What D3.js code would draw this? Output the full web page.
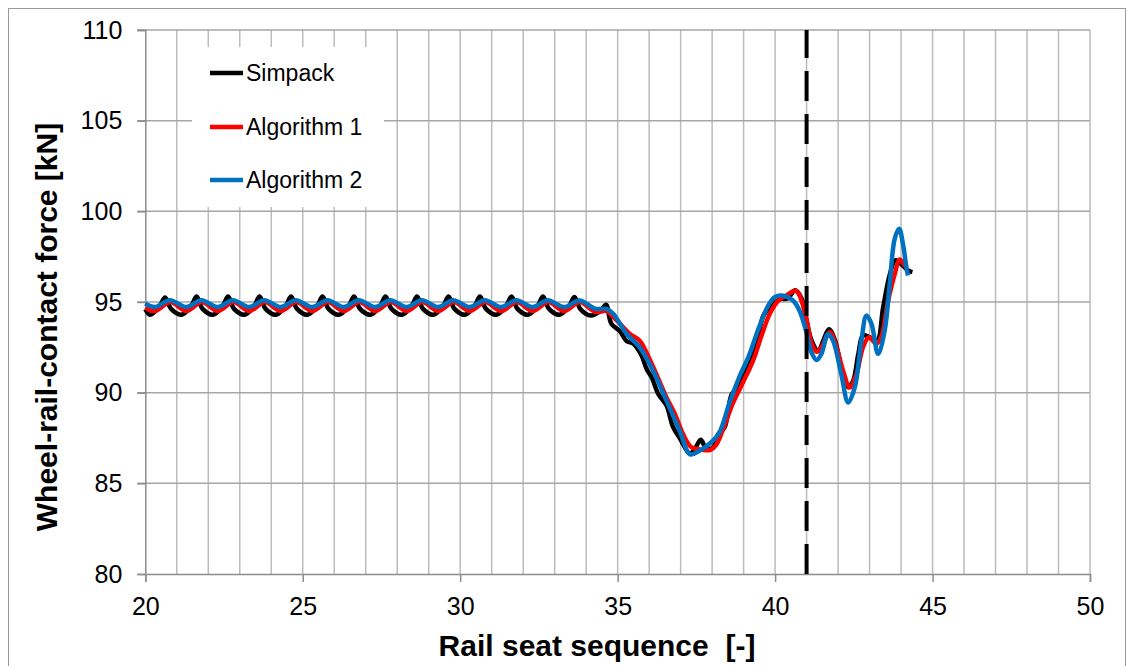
<!DOCTYPE html>
<html lang="en">
<head>
    <meta charset="UTF-8">
    <title>Wheel-rail-contact force</title>
    <script src="https://d3js.org/d3.v7.min.js"></script>
    <style>
        body { margin: 0; background: white; }
        text { font-family: "Liberation Sans", Arial, sans-serif; }
    </style>
</head>
<body>
<div id="chart"></div>
<script>
    // Values: [rail seat, force kN]
    var simpack = [
        [20.0, 94.6], [20.15, 94.3], [20.45, 94.75], [20.63, 95.25], [20.82, 94.62],
        [21.15, 94.3], [21.45, 94.75], [21.63, 95.3], [21.82, 94.62],
        [22.15, 94.3], [22.45, 94.75], [22.63, 95.3], [22.82, 94.62],
        [23.15, 94.3], [23.45, 94.75], [23.63, 95.3], [23.82, 94.62],
        [24.15, 94.3], [24.45, 94.75], [24.63, 95.3], [24.82, 94.62],
        [25.15, 94.3], [25.45, 94.75], [25.63, 95.3], [25.82, 94.62],
        [26.15, 94.3], [26.45, 94.75], [26.63, 95.3], [26.82, 94.62],
        [27.15, 94.3], [27.45, 94.75], [27.63, 95.3], [27.82, 94.62],
        [28.15, 94.3], [28.45, 94.75], [28.63, 95.3], [28.82, 94.62],
        [29.15, 94.3], [29.45, 94.75], [29.63, 95.3], [29.82, 94.62],
        [30.15, 94.3], [30.45, 94.75], [30.63, 95.3], [30.82, 94.62],
        [31.15, 94.3], [31.45, 94.75], [31.63, 95.3], [31.82, 94.62],
        [32.15, 94.3], [32.45, 94.75], [32.63, 95.3], [32.82, 94.62],
        [33.15, 94.3], [33.45, 94.75], [33.63, 95.28], [33.82, 94.6],
        [34.15, 94.25], [34.45, 94.5], [34.63, 94.85], [34.8, 93.8],
        [35.07, 93.4], [35.28, 92.85], [35.5, 92.7], [35.76, 92.05], [35.92, 91.3],
        [36.08, 90.85], [36.29, 89.93], [36.55, 89.3], [36.76, 88.1], [36.97, 87.5],
        [37.29, 86.65], [37.45, 86.9], [37.64, 87.4], [37.82, 86.9], [38.03, 86.98],
        [38.19, 87.7], [38.4, 88.1], [38.62, 89.9], [38.83, 90.3], [39.1, 91.4],
        [39.36, 92.4], [39.64, 94.3], [39.89, 94.8], [40.15, 95.15], [40.4, 95.2],
        [40.64, 95.65], [40.84, 95.2], [40.97, 94.2], [41.16, 92.87], [41.37, 92.3],
        [41.53, 92.87], [41.71, 93.5], [41.9, 92.9], [42.1, 91.4], [42.32, 90.3],
        [42.48, 90.66], [42.64, 92.1], [42.79, 93.15], [43.0, 93.06], [43.24, 92.87],
        [43.43, 94.7], [43.64, 96.5], [43.82, 97.3], [44.06, 97.0], [44.22, 96.74],
        [44.36, 96.65]
    ];

    var algorithm1 = [
        [20.0, 94.68], [20.3, 94.5], [20.8, 95.0], [21.3, 94.5], [21.8, 95.0],
        [22.3, 94.5], [22.8, 95.0], [23.3, 94.5], [23.8, 95.0], [24.3, 94.5],
        [24.8, 95.0], [25.3, 94.5], [25.8, 95.0], [26.3, 94.5], [26.8, 95.0],
        [27.3, 94.5], [27.8, 95.0], [28.3, 94.5], [28.8, 95.0], [29.3, 94.5],
        [29.8, 95.0], [30.3, 94.5], [30.8, 95.0], [31.3, 94.5], [31.8, 95.0],
        [32.3, 94.5], [32.8, 95.0], [33.3, 94.5], [33.8, 95.0], [34.3, 94.45],
        [34.65, 94.5], [34.97, 93.98], [35.39, 93.24], [35.7, 92.87], [36.08, 91.6],
        [36.55, 89.74], [36.8, 88.9], [37.08, 87.7], [37.34, 87.0], [37.7, 86.85],
        [37.95, 86.85], [38.12, 87.1], [38.33, 87.9], [38.65, 89.38], [38.98, 90.57],
        [39.3, 91.77], [39.57, 93.15], [39.83, 94.35], [40.1, 95.08], [40.36, 95.36],
        [40.66, 95.62], [40.94, 94.5], [41.16, 92.7], [41.32, 92.25], [41.47, 92.5],
        [41.74, 93.33], [41.95, 92.5], [42.16, 91.2], [42.37, 90.29], [42.58, 91.0],
        [42.79, 92.5], [42.98, 93.06], [43.21, 92.7], [43.37, 93.06], [43.59, 95.08],
        [43.8, 96.54], [43.96, 97.35], [44.12, 97.0], [44.2, 96.9]
    ];

    var algorithm2 = [
        [20.0, 94.92], [20.3, 94.72], [20.78, 95.1], [21.3, 94.72], [21.78, 95.1],
        [22.3, 94.72], [22.78, 95.1], [23.3, 94.72], [23.78, 95.1], [24.3, 94.72],
        [24.78, 95.1], [25.3, 94.72], [25.78, 95.1], [26.3, 94.72], [26.78, 95.1],
        [27.3, 94.72], [27.78, 95.1], [28.3, 94.72], [28.78, 95.1], [29.3, 94.72],
        [29.78, 95.1], [30.3, 94.72], [30.78, 95.1], [31.3, 94.72], [31.78, 95.1],
        [32.3, 94.72], [32.78, 95.1], [33.3, 94.72], [33.78, 95.08], [34.3, 94.62],
        [34.65, 94.62], [34.86, 94.35], [35.28, 93.25], [35.7, 92.5], [36.13, 91.2],
        [36.55, 89.56], [36.97, 87.9], [37.3, 86.6], [37.6, 86.8], [37.91, 87.17],
        [38.23, 87.8], [38.54, 89.38], [38.86, 90.85], [39.17, 92.04], [39.49, 93.6],
        [39.78, 94.8], [39.99, 95.27], [40.2, 95.36], [40.57, 95.08], [40.78, 94.5],
        [41.0, 93.3], [41.16, 92.2], [41.32, 91.8], [41.47, 92.14], [41.68, 93.24],
        [41.84, 92.87], [42.1, 91.03], [42.32, 89.46], [42.53, 90.29], [42.74, 92.87],
        [42.9, 94.25], [43.06, 93.8], [43.27, 92.14], [43.48, 93.43], [43.64, 96.0],
        [43.8, 98.5], [43.94, 99.04], [44.06, 98.2], [44.17, 96.9], [44.22, 96.46]
    ];

    var seriesNames = ["Simpack", "Algorithm 1", "Algorithm 2"];
    var seriesColors = ["#000000", "#ff0000", "#0070c0"];
    var xTicks = [20, 25, 30, 35, 40, 45, 50];
    var yTicks = [80, 85, 90, 95, 100, 105, 110];
    var xGrid = d3.range(21, 51);
    var markerSeat = 41;

    var width = 1134, height = 666;
    var plot = {left: 145.3, right: 1090, top: 30, bottom: 574};

    var svg = d3.select("#chart").append("svg")
        .attr("width", width)
        .attr("height", height);

    // outer chart border
    svg.append("rect")
        .attr("x", 8.5).attr("y", 8.5)
        .attr("width", 1117).attr("height", 700)
        .style("fill", "white")
        .style("stroke", "#9a9a9a")
        .style("stroke-width", 1);

    var x = d3.scaleLinear().domain([20, 50]).range([plot.left, plot.right]);
    var y = d3.scaleLinear().domain([80, 110]).range([plot.bottom, plot.top]);

    // grid
    svg.append("g").selectAll("line").data(xGrid).enter().append("line")
        .attr("x1", function(d) { return x(d); })
        .attr("x2", function(d) { return x(d); })
        .attr("y1", plot.top).attr("y2", plot.bottom)
        .style("stroke", "#bcbcbc").style("stroke-width", 1.5);

    svg.append("g").selectAll("line").data(yTicks.slice(1)).enter().append("line")
        .attr("x1", plot.left - 8).attr("x2", plot.right)
        .attr("y1", function(d) { return y(d); })
        .attr("y2", function(d) { return y(d); })
        .style("stroke", "#a6a6a6").style("stroke-width", 1.5);

    // axes
    var axisLeft = d3.axisLeft(y).tickValues(yTicks).tickSize(8).tickPadding(15);
    var gy = svg.append("g").attr("transform", "translate(" + plot.left + ",0)").call(axisLeft);

    var axisBottom = d3.axisBottom(x).tickValues(xTicks).tickSize(8).tickPadding(15);
    var gx = svg.append("g").attr("transform", "translate(0," + plot.bottom + ")").call(axisBottom);

    [gx, gy].forEach(function(g) {
        g.select(".domain").style("stroke", "#8c8c8c").style("stroke-width", 1.5);
        g.selectAll(".tick line").style("stroke", "#8c8c8c").style("stroke-width", 1.5);
        g.selectAll(".tick text")
            .style("font-family", "'Liberation Sans', Arial, sans-serif")
            .style("font-size", "25px")
            .style("fill", "#000");
    });

    // legend background (hides grid behind it)
    svg.append("rect")
        .attr("x", 192).attr("y", 47)
        .attr("width", 192).attr("height", 160)
        .style("fill", "white");

    var line = d3.line()
        .x(function(d) { return x(d[0]); })
        .y(function(d) { return y(d[1]); })
        .curve(d3.curveCatmullRom.alpha(0.5));

    [simpack, algorithm1, algorithm2].forEach(function(data, i) {
        svg.append("path")
            .datum(data)
            .attr("d", line)
            .style("fill", "none")
            .style("stroke", seriesColors[i])
            .style("stroke-width", 4.5)
            .style("stroke-linejoin", "round");
    });

    // dashed marker
    svg.append("line")
        .attr("x1", x(markerSeat)).attr("x2", x(markerSeat))
        .attr("y1", y(80)).attr("y2", y(110))
        .style("stroke", "#000")
        .style("stroke-width", 4)
        .style("stroke-dasharray", "30,13");

    // legend
    var legendRows = [73, 127, 180];
    seriesNames.forEach(function(name, i) {
        svg.append("line")
            .attr("x1", 210).attr("x2", 243)
            .attr("y1", legendRows[i]).attr("y2", legendRows[i])
            .style("stroke", seriesColors[i])
            .style("stroke-width", 4.5);
        svg.append("text")
            .attr("x", 246).attr("y", legendRows[i] + 8)
            .style("font-size", "23px")
            .text(name);
    });

    // axis titles
    svg.append("text")
        .attr("x", 597).attr("y", 656)
        .attr("text-anchor", "middle")
        .style("font-size", "30px")
        .style("font-weight", "bold")
        .style("white-space", "pre")
        .text("Rail seat sequence  [-]");

    svg.append("text")
        .attr("transform", "translate(57,327) rotate(-90)")
        .attr("text-anchor", "middle")
        .style("font-size", "30px")
        .style("font-weight", "bold")
        .text("Wheel-rail-contact force [kN]");
</script>
</body>
</html>
